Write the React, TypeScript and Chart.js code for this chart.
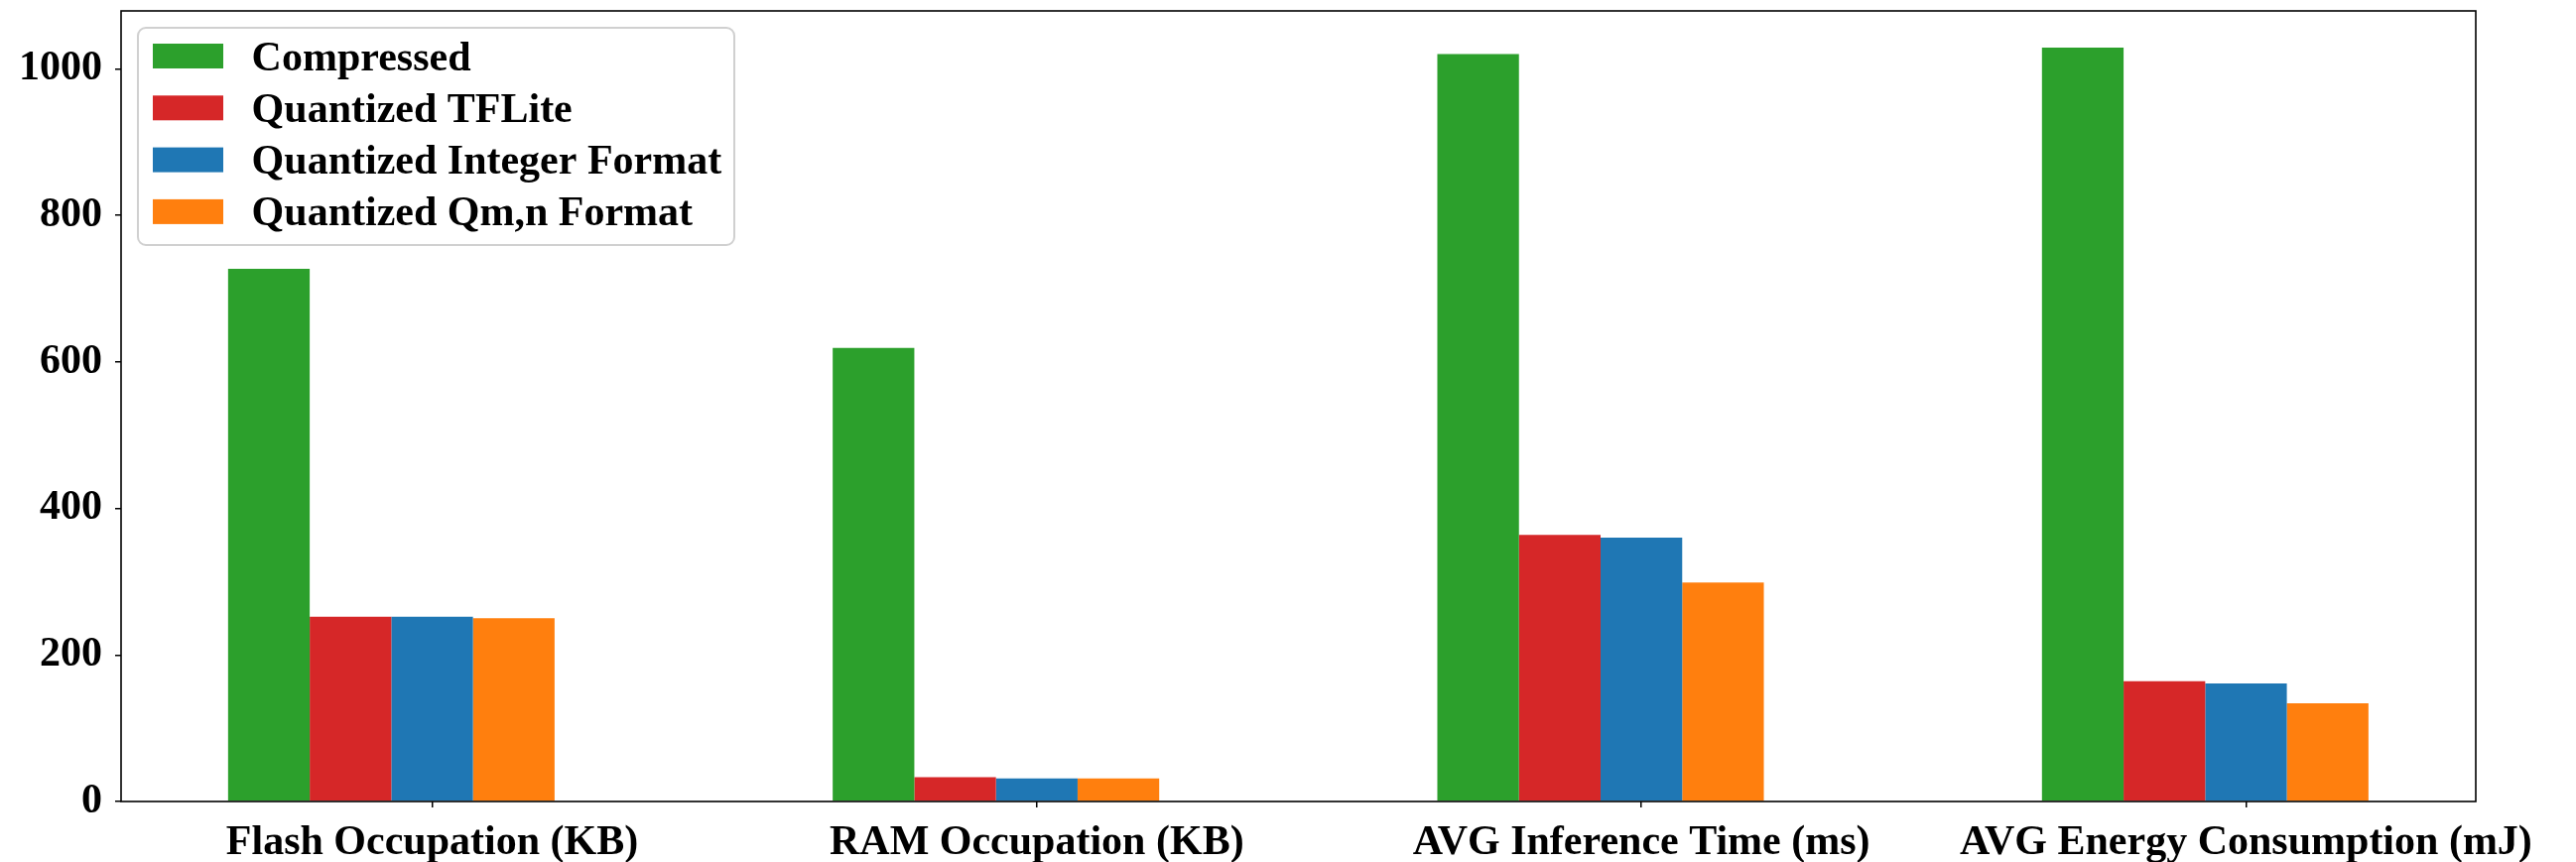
import React, { useEffect, useRef } from 'react';
import { Chart, registerables } from 'chart.js';

Chart.register(...registerables);

const categories = [
  'Flash Occupation (KB)',
  'RAM Occupation (KB)',
  'AVG Inference Time (ms)',
  'AVG Energy Consumption (mJ)',
];
const seriesNames = [
  'Compressed',
  'Quantized TFLite',
  'Quantized Integer Format',
  'Quantized Qm,n Format',
];
const compressed = [727, 619, 1020, 1029];
const quantizedTFLite = [252, 33, 364, 164];
const quantizedInteger = [252, 31.5, 360, 161];
const quantizedQmn = [250, 31.5, 299, 134];
const seriesColors = ['#2ca02c', '#d62728', '#1f77b4', '#ff7f0e'];
const yTicks = [0, 200, 400, 600, 800, 1000];

const FONT_FAMILY = "'Liberation Serif', 'Times New Roman', serif";

const legendPlugin = {
  id: 'mplLegend',
  afterDraw(chart: any) {
    const { ctx, chartArea } = chart;
    const x0 = chartArea.left + 17;
    const y0 = chartArea.top + 17;
    const w = 601;
    const h = 219;
    ctx.save();
    ctx.beginPath();
    if (ctx.roundRect) ctx.roundRect(x0, y0, w, h, 8);
    else ctx.rect(x0, y0, w, h);
    ctx.fillStyle = 'rgba(255,255,255,0.8)';
    ctx.fill();
    ctx.lineWidth = 2;
    ctx.strokeStyle = '#d0d0d0';
    ctx.stroke();
    seriesNames.forEach((name, i) => {
      const cy = y0 + 28.5 + i * 52.3;
      ctx.fillStyle = seriesColors[i];
      ctx.fillRect(x0 + 15, cy - 12.5, 71, 25);
      ctx.fillStyle = '#000';
      ctx.font = `bold 42px ${FONT_FAMILY}`;
      ctx.textBaseline = 'alphabetic';
      ctx.textAlign = 'left';
      ctx.fillText(name, x0 + 114.6, cy + 14);
    });
    ctx.restore();
  },
};

const framePlugin = {
  id: 'mplFrame',
  afterDatasetsDraw(chart: any) {
    const { ctx, chartArea } = chart;
    ctx.save();
    ctx.lineWidth = 1.6;
    ctx.strokeStyle = '#000';
    ctx.strokeRect(chartArea.left, chartArea.top, chartArea.right - chartArea.left, chartArea.bottom - chartArea.top);
    ctx.restore();
  },
};

export default function App() {
  const canvasRef = useRef<HTMLCanvasElement | null>(null);

  useEffect(() => {
    document.body.style.margin = '0';
    const canvas = canvasRef.current;
    if (!canvas) return;
    const allSeries = [compressed, quantizedTFLite, quantizedInteger, quantizedQmn];
    const datasets: any[] = allSeries.map((values, s) => ({
      label: seriesNames[s],
      data: values.map((v, i) => ({ x: i, y: v })),
      backgroundColor: seriesColors[s],
      borderWidth: 0,
      categoryPercentage: 0.675,
      barPercentage: 1,
    }));
    // empty slot so the group is offset like the original (4 bars + gap)
    datasets.push({
      label: '',
      data: [],
      backgroundColor: 'rgba(0,0,0,0)',
      borderWidth: 0,
      categoryPercentage: 0.675,
      barPercentage: 1,
    });

    const font = { family: FONT_FAMILY, size: 42, weight: 'bold' as const };

    const chart = new Chart(canvas, {
      type: 'bar',
      data: { datasets },
      options: {
        animation: false,
        responsive: false,
        devicePixelRatio: 1,
        layout: { padding: { top: 11, right: 101, bottom: 0, left: 0 } },
        plugins: {
          legend: { display: false },
          tooltip: { enabled: false },
        },
        scales: {
          x: {
            type: 'linear',
            offset: false,
            min: -0.5145,
            max: 3.38,
            afterBuildTicks: (scale: any) => {
              scale.ticks = categories.map((_, i) => ({ value: i }));
            },
            afterFit: (scale: any) => {
              scale.height = 61;
            },
            ticks: {
              callback: (value: any) => categories[value as number] ?? '',
              font,
              color: '#000',
              padding: 11,
              maxRotation: 0,
              minRotation: 0,
              autoSkip: false,
            },
            grid: {
              offset: false,
              drawOnChartArea: false,
              drawTicks: true,
              tickLength: 6,
              color: '#000',
              lineWidth: 1.5,
            },
            border: { display: false },
          },
          y: {
            type: 'linear',
            min: 0,
            max: 1079,
            afterBuildTicks: (scale: any) => {
              scale.ticks = yTicks.map((v) => ({ value: v }));
            },
            afterFit: (scale: any) => {
              scale.width = 122;
              scale.paddingTop = 0;
              scale.paddingBottom = 0;
            },
            ticks: {
              font,
              color: '#000',
              padding: 13,
              callback: (value: any) => String(value),
            },
            grid: {
              drawOnChartArea: false,
              drawTicks: true,
              tickLength: 6,
              color: '#000',
              lineWidth: 1.5,
            },
            border: { display: false },
          },
        },
      } as any,
      plugins: [framePlugin, legendPlugin],
    });
    return () => chart.destroy();
  }, []);

  return (
    <div style={{ width: 2596, height: 869, background: '#fff' }}>
      <canvas ref={canvasRef} width={2596} height={869} style={{ display: 'block' }} />
    </div>
  );
}
